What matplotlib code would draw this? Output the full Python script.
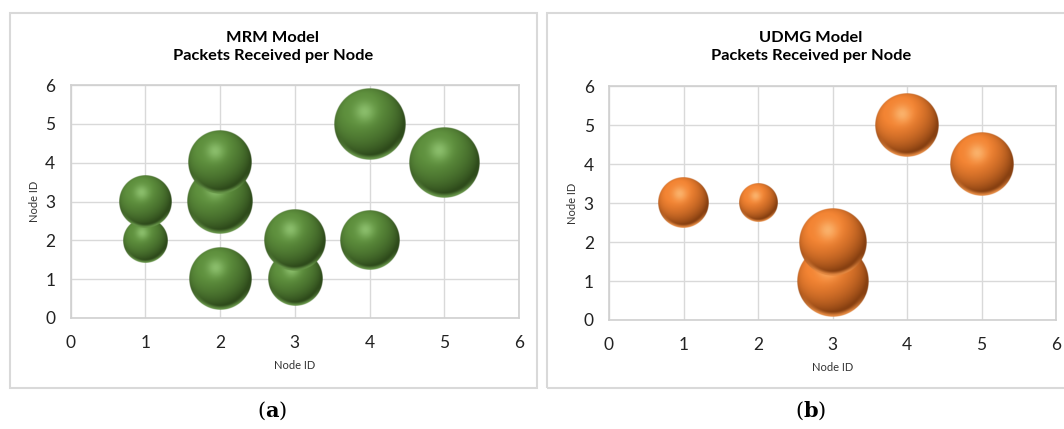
import numpy as np
import matplotlib
matplotlib.use("Agg")
import matplotlib.pyplot as plt
from matplotlib.patches import Rectangle

# --- data ---
mrm_x = [1, 1, 2, 2, 2, 3, 3, 4, 4, 5]
mrm_y = [3, 2, 4, 3, 1, 2, 1, 2, 5, 4]
mrm_packets = [53, 38, 78, 83, 75, 73, 57, 68, 100, 96]

udmg_x = [1, 2, 3, 3, 4, 5]
udmg_y = [3, 3, 2, 1, 5, 4]
udmg_packets = [50, 28, 89, 100, 79, 79]

ticks = [0, 1, 2, 3, 4, 5, 6]

W, H = 1064, 429
R_MAX = 36  # pixel radius of the largest bubble
FONT = "Lato"

plt.rcParams["font.family"] = [FONT, "DejaVu Sans"]


def sphere_image(base, light, dark, n=200):
    lin = np.linspace(-1, 1, n)
    X, Y = np.meshgrid(lin, -lin)
    D = np.sqrt(X ** 2 + Y ** 2)
    Z = np.sqrt(np.clip(1 - D ** 2, 0, 1))
    L = np.array([-0.3, 0.5, 0.81])
    L /= np.linalg.norm(L)
    diff = np.clip(X * L[0] + Y * L[1] + Z * L[2], 0, 1)

    base = np.array(matplotlib.colors.to_rgb(base))
    light = np.array(matplotlib.colors.to_rgb(light))
    dark = np.array(matplotlib.colors.to_rgb(dark))

    t = np.clip(0.3 + 0.85 * diff, 0, 1.05)[..., None]
    col = dark + (base - dark) * t
    # soft highlight, upper left
    hl = np.exp(-((X + 0.15) ** 2 + (Y - 0.35) ** 2) / (2 * 0.2 ** 2)) * 0.6
    col = col + (light - col) * hl[..., None]
    # light reflection along the bottom edge
    rim = np.clip((D - 0.86) / 0.1, 0, 1) * np.clip((-Y - 0.35) / 0.5, 0, 1)
    rim_col = base + (light - base) * 0.25
    col = col + (rim_col - col) * (rim[..., None] * 0.85)
    col = np.clip(col, 0, 1)
    alpha = np.clip((1 - D) * n / 2.0, 0, 1)
    return np.dstack([col, alpha])


def bubble_panel(ax, xs, ys, vals, colors):
    ax.set_xlim(0, 6)
    ax.set_ylim(0, 6)
    ax.set_xticks(ticks)
    ax.set_yticks(ticks)
    ax.grid(True, color="#d9d9d9", lw=1.0)
    ax.set_axisbelow(True)
    for s in ax.spines.values():
        s.set_color("#d0d0d0")
        s.set_linewidth(1.2)
    ax.tick_params(length=0, labelsize=12.5, colors="#222222")
    ax.tick_params(axis="y", pad=11)
    ax.tick_params(axis="x", pad=12)
    ax.set_xlabel("Node ID", fontsize=8, labelpad=7, color="#333333")
    ax.set_ylabel("Node ID", fontsize=8, labelpad=4, color="#333333")

    bb = ax.get_position()
    px_x = bb.width * W / 6.0
    px_y = bb.height * H / 6.0
    img = sphere_image(*colors)
    vmax = max(vals)
    order = np.argsort(ys, kind="stable")
    for k, i in enumerate(order):
        r = R_MAX * np.sqrt(vals[i] / vmax)
        rx, ry = r / px_x, r / px_y
        ax.imshow(img, extent=[xs[i] - rx, xs[i] + rx, ys[i] - ry, ys[i] + ry],
                  aspect="auto", interpolation="bilinear", zorder=3 + k)
    ax.set_xlim(0, 6)
    ax.set_ylim(0, 6)


fig = plt.figure(figsize=(W / 100, H / 100), dpi=100)

def px_axes(x0, y_top, x1, y_bot):
    return fig.add_axes([x0 / W, 1 - y_bot / H, (x1 - x0) / W, (y_bot - y_top) / H])

ax1 = px_axes(70.5, 85, 519, 318)
ax2 = px_axes(609, 86, 1056, 320)

bubble_panel(ax1, mrm_x, mrm_y, mrm_packets, ("#5a8a3a", "#a8dc8a", "#1c300e"))
bubble_panel(ax2, udmg_x, udmg_y, udmg_packets, ("#ec7f30", "#ffcf8f", "#5e2604"))

# chart area borders
for x0, x1 in [(9.5, 537.5), (546.5, 1080)]:
    fig.add_artist(Rectangle((x0 / W, 1 - 387.5 / H), (x1 - x0) / W, (387.5 - 12.5) / H,
                             transform=fig.transFigure, fill=False,
                             edgecolor="#d9d9d9", lw=1.5))

fig.text(273 / W, 1 - 47 / H, "MRM Model\nPackets Received per Node", ha="center",
         va="center", fontsize=11.8, fontweight="bold", linespacing=1.3)
fig.text(811 / W, 1 - 47 / H, "UDMG Model\nPackets Received per Node", ha="center",
         va="center", fontsize=11.8, fontweight="bold", linespacing=1.3)

plt.rcParams["mathtext.fontset"] = "dejavuserif"
fig.text(272 / W, 1 - 411 / H, r"($\mathbf{a}$)", ha="center", va="center",
         fontsize=15, family="DejaVu Serif")
fig.text(811 / W, 1 - 411 / H, r"($\mathbf{b}$)", ha="center", va="center",
         fontsize=15, family="DejaVu Serif")

fig.savefig("out.png", dpi=100)
